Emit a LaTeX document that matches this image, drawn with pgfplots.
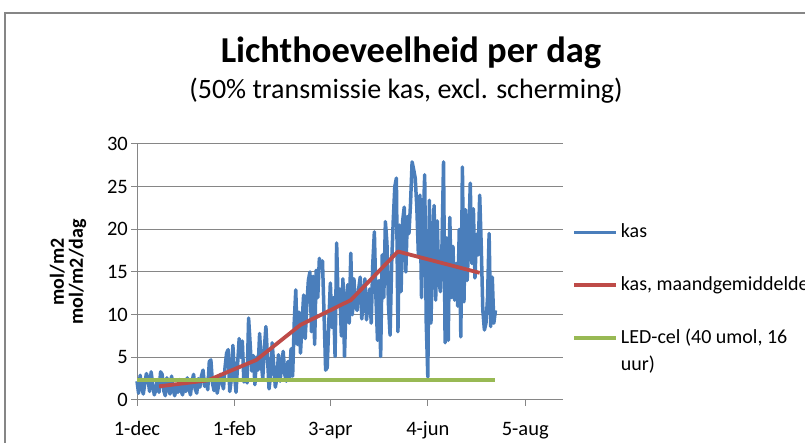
\documentclass[border=0pt]{standalone}
\usepackage{fontspec}
\setmainfont{Carlito}
\usepackage{pgfplots}
\pgfplotsset{compat=1.18}
\definecolor{xlblue}{HTML}{4A7EBB}
\definecolor{xlred}{HTML}{BE4B48}
\definecolor{xlgreen}{HTML}{98B954}
\definecolor{xlgray}{HTML}{868686}
\begin{document}
\begin{tikzpicture}[x=1pt,y=1pt]
\useasboundingbox (0,0) rectangle (805,443);
\draw[xlgray, line width=1.8pt] (5,-20) -- (5,430) -- (830,430);
\node[anchor=base, font=\bfseries\fontsize{36.5}{40}\selectfont] at (411,380) {Lichthoeveelheid per dag};
\node[anchor=base, font=\fontsize{28}{32}\selectfont] at (406,344) {(50\% transmissie kas, excl. scherming)};
\begin{axis}[
 at={(137pt,43pt)}, anchor=south west, scale only axis, width=426pt, height=256pt,
 xmin=0, xmax=271, ymin=0, ymax=30,
 axis lines=left, axis line style={xlgray, line width=1pt, -},
 xtick={0,62,123,185,247}, xticklabels={1-dec,1-feb,3-apr,4-jun,5-aug},
 ytick={0,5,10,15,20,25,30},
 tick align=outside, major tick length=6pt, tick style={xlgray, line width=1pt},
 ymajorgrids, grid style={xlgray, line width=1pt},
 /pgf/number format/assume math mode=true,
 tick label style={font=\fontsize{20.5}{24}\selectfont},
 xticklabel style={anchor=base, yshift=-30pt, inner sep=0pt},
 yticklabel style={anchor=east, xshift=-3pt, inner sep=0pt},
 ylabel={mol/m2\\mol/m2/dag},
 ylabel style={at={(-0.162,0.5)}, anchor=center, align=center, font=\bfseries\fontsize{20}{19}\selectfont},
 clip=false,
 legend style={at={(1.021,0.697)}, anchor=north west, draw=none, fill=none, inner sep=0pt, column sep=3pt, row sep=5.5pt, font=\fontsize{20}{24}\selectfont, nodes={inner sep=0pt, text height=16pt, text depth=5pt}},
 legend cell align=left,
 legend image code/.code={\draw[#1] (0pt,0pt) -- (42pt,0pt);},
 line join=round,
]
\addplot[xlblue, line width=3.5pt] coordinates {
(0,2.2)(1,0.8)(2,2.9)(3,1.5)(4,0.7)(5,2.0)(6,3.1)(7,2.5)(8,1.0)(9,3.3)
(10,1.8)(11,0.6)(12,1.2)(13,2.4)(14,0.9)(15,3.3)(16,3.0)(17,1.1)(18,0.5)(19,2.6)
(20,1.4)(21,0.7)(22,2.8)(23,1.2)(24,0.5)(25,1.6)(26,0.9)(27,2.4)(28,1.1)(29,0.6)
(30,2.0)(31,1.0)(32,2.6)(33,1.4)(34,0.6)(35,2.2)(36,3.0)(37,1.3)(38,0.8)(39,2.5)
(40,1.5)(41,2.8)(42,3.5)(43,1.6)(44,2.4)(45,1.2)(46,4.5)(47,4.7)(48,2.0)(49,1.1)
(50,2.6)(51,0.8)(52,1.8)(53,3.0)(54,2.2)(55,1.3)(56,3.8)(57,5.5)(58,5.9)(59,1.0)
(60,2.4)(61,6.4)(62,3.0)(63,0.9)(64,4.2)(65,7.2)(66,5.0)(67,6.9)(68,2.1)(69,4.0)
(70,2.0)(71,9.6)(72,6.5)(73,3.4)(74,5.2)(75,1.8)(76,5.0)(77,3.5)(78,7.8)(79,4.5)
(80,2.5)(81,6.0)(82,8.6)(83,5.0)(84,1.3)(85,3.0)(86,6.7)(87,4.0)(88,1.5)(89,2.6)
(90,5.3)(91,2.2)(92,4.0)(93,5.7)(94,3.0)(95,2.2)(96,4.5)(97,2.4)(98,6.0)(99,2.8)
(100,9.0)(101,12.9)(102,6.5)(103,10.3)(104,5.5)(105,9.0)(106,12.3)(107,7.2)(108,11.0)(109,14.0)
(110,15.0)(111,8.0)(112,14.5)(113,6.5)(114,15.2)(115,12.0)(116,16.6)(117,15.5)(118,16.3)(119,10.0)
(120,3.5)(121,3.8)(122,9.0)(123,13.7)(124,8.5)(125,12.0)(126,5.1)(127,18.4)(128,11.0)(129,13.0)
(130,7.5)(131,14.2)(132,5.1)(133,11.5)(134,13.5)(135,9.0)(136,17.2)(137,10.0)(138,14.2)(139,11.0)
(140,10.5)(141,13.0)(142,14.4)(143,9.5)(144,12.0)(145,14.2)(146,9.4)(147,11.5)(148,13.0)(149,9.0)
(150,16.0)(151,19.7)(152,12.0)(153,7.0)(154,14.0)(155,5.1)(156,17.0)(157,12.0)(158,20.9)(159,18.4)
(160,11.0)(161,7.6)(162,16.0)(163,21.0)(164,25.0)(165,26.0)(166,8.0)(167,20.5)(168,12.7)(169,21.0)
(170,22.6)(171,15.0)(172,21.5)(173,19.5)(174,23.0)(175,27.9)(176,27.0)(177,26.0)(178,22.6)(179,17.0)
(180,24.0)(181,12.0)(182,20.0)(183,26.4)(184,9.0)(185,2.7)(186,23.4)(187,9.0)(188,18.0)(189,22.8)
(190,11.7)(191,21.0)(192,14.0)(193,12.7)(194,18.0)(195,27.9)(196,6.7)(197,19.0)(198,7.0)(199,21.4)
(200,12.0)(201,18.0)(202,11.7)(203,16.0)(204,11.0)(205,20.0)(206,7.4)(207,27.3)(208,11.5)(209,22.3)
(210,14.0)(211,18.0)(212,25.4)(213,16.0)(214,22.4)(215,14.3)(216,19.4)(217,17.0)(218,24.0)(219,18.0)
(220,10.5)(221,8.2)(222,9.0)(223,12.0)(224,19.5)(225,8.6)(226,14.4)(227,9.0)(228,10.5)
};
\addlegendentry{kas}
\addlegendimage{empty legend}\addlegendentry{}
\addplot[xlred, line width=3.8pt] coordinates {
(14,1.6)(45,2.3)(76,4.7)(104,8.8)(136,11.7)(166,17.4)(218,14.9)
};
\addlegendentry{kas, maandgemiddelde}
\addlegendimage{empty legend}\addlegendentry{}
\addplot[xlgreen, line width=3.8pt] coordinates {
(0,2.3)(228,2.3)
};
\addlegendentry{LED-cel (40 umol, 16}
\addlegendimage{empty legend}\addlegendentry{uur)}
\end{axis}
\end{tikzpicture}
\end{document}
